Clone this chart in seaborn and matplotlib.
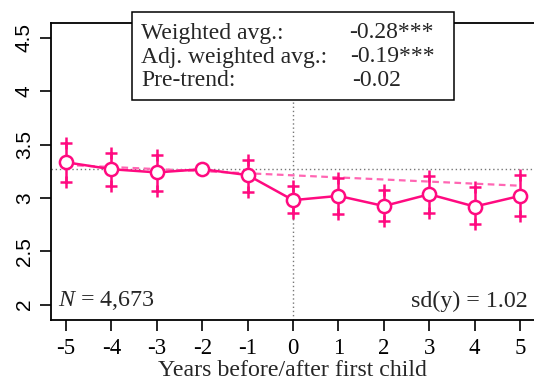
import matplotlib
matplotlib.use("Agg")
import matplotlib.pyplot as plt
import seaborn as sns
import pandas as pd
from matplotlib.patches import Rectangle

# ---- data ----
years = [-5, -4, -3, -2, -1, 0, 1, 2, 3, 4, 5]
estimate = [3.335, 3.27, 3.24, 3.27, 3.215, 2.98, 3.02, 2.925, 3.035, 2.92, 3.02]
ci_upper = [3.52, 3.42, 3.40, None, 3.36, 3.115, 3.19, 3.075, 3.21, 3.10, 3.215]
ci_lower = [3.153, 3.115, 3.065, None, 3.053, 2.857, 2.85, 2.78, 2.857, 2.756, 2.83]
reference_level = 3.27
trend_x = [-5, 5]
trend_y = [3.31, 3.115]
x_ticks = [-5, -4, -3, -2, -1, 0, 1, 2, 3, 4, 5]
y_ticks = [2, 2.5, 3, 3.5, 4, 4.5]
y_tick_labels = ["2", "2.5", "3", "3.5", "4", "4.5"]
box_labels = ["Weighted avg.:", "Adj. weighted avg.:", "Pre-trend:"]
box_values = ["-0.28***", "-0.19***", "-0.02"]
n_text = "4,673"
sd_text = "sd(y) = 1.02"
x_label = "Years before/after first child"

PINK = "#FF0A80"
PINK_LIGHT = "#FF66B3"

sns.set_style("white")
plt.rcParams["font.family"] = ["Liberation Serif", "DejaVu Serif"]
plt.rcParams["mathtext.fontset"] = "custom"
plt.rcParams["mathtext.it"] = "Liberation Serif:italic"
plt.rcParams["mathtext.rm"] = "Liberation Serif"

fig = plt.figure(figsize=(5.34, 3.81), dpi=100)
ax_w_px = 534 - 50.5
ax = fig.add_axes([50.5 / 534, 61 / 381, ax_w_px / 534, (320 - 23) / 381])

df = pd.DataFrame({"year": years, "est": estimate})

# reference lines
ax.axhline(reference_level, color="#777777", lw=1.0, ls=(0, (1, 2)), zorder=1)
ax.axvline(0, color="#777777", lw=1.0, ls=(0, (1, 2)), zorder=1)

# pre-trend dashed line
sns.lineplot(x=trend_x, y=trend_y, ax=ax, color=PINK_LIGHT, lw=1.6,
             zorder=2, linestyle=(0, (3, 2)))

# error bars
ci_x = [x for x, u in zip(years, ci_upper) if u is not None]
ci_u = [u for u in ci_upper if u is not None]
ci_l = [l for l in ci_lower if l is not None]
ax.vlines(ci_x, ci_l, ci_u, color=PINK, lw=1.8, zorder=3)
ax.plot(ci_x, ci_u, ls="none", marker="+", ms=9, mew=1.8, color=PINK, zorder=3)
ax.plot(ci_x, ci_l, ls="none", marker="+", ms=9, mew=1.8, color=PINK, zorder=3)

# main series
sns.lineplot(data=df, x="year", y="est", ax=ax, color=PINK, lw=1.8,
             marker="o", markersize=9.5, markerfacecolor="white",
             markeredgecolor=PINK, markeredgewidth=1.8, zorder=4)

ax.set_xlim(-5.34, 5.305)
ax.set_ylim(1.857, 4.64)
ax.set_xticks(x_ticks)
ax.set_xticklabels([str(x) for x in x_ticks])
ax.set_yticks(y_ticks)
ax.set_yticklabels(y_tick_labels, rotation=90, va="center",
                   family=["Liberation Sans", "DejaVu Sans"])
ax.tick_params(axis="both", which="major", direction="out", length=8, width=1.2,
               color="black", labelcolor="black", bottom=True, left=True)
ax.tick_params(axis="x", labelsize=16.5, pad=5)
ax.tick_params(axis="y", labelsize=15, pad=4)
ax.set_xlabel(x_label, fontsize=17.2, labelpad=1)
ax.set_ylabel("")

for side in ["left", "bottom", "top"]:
    ax.spines[side].set_visible(True)
    ax.spines[side].set_color("black")
    ax.spines[side].set_linewidth(1.3)
ax.spines["right"].set_visible(False)

ty = 1 - (301 - 23) / (320 - 23)
ax.text((58 - 50.5) / ax_w_px, ty, r"$N$ = " + n_text, transform=ax.transAxes,
        fontsize=17.3, va="center", ha="left")
ax.text((528 - 50.5) / ax_w_px, ty, sd_text, transform=ax.transAxes,
        fontsize=17.3, va="center", ha="right")

# stats box
rect = Rectangle((132 / 534, 1 - 100 / 381), (454 - 132) / 534, (100 - 12) / 381,
                 transform=fig.transFigure, facecolor="white", edgecolor="black",
                 lw=1.1, zorder=10)
fig.patches.append(rect)
row_y = [33, 57, 81]
val_x = [349, 350, 352]
for lab, val, yy, vx in zip(box_labels, box_values, row_y, val_x):
    fig.text(141 / 534, 1 - yy / 381, lab, fontsize=17, va="center", ha="left", zorder=11)
    fig.text(vx / 534, 1 - yy / 381, val, fontsize=17, va="center", ha="left", zorder=11)

fig.savefig("out.png", dpi=100)
